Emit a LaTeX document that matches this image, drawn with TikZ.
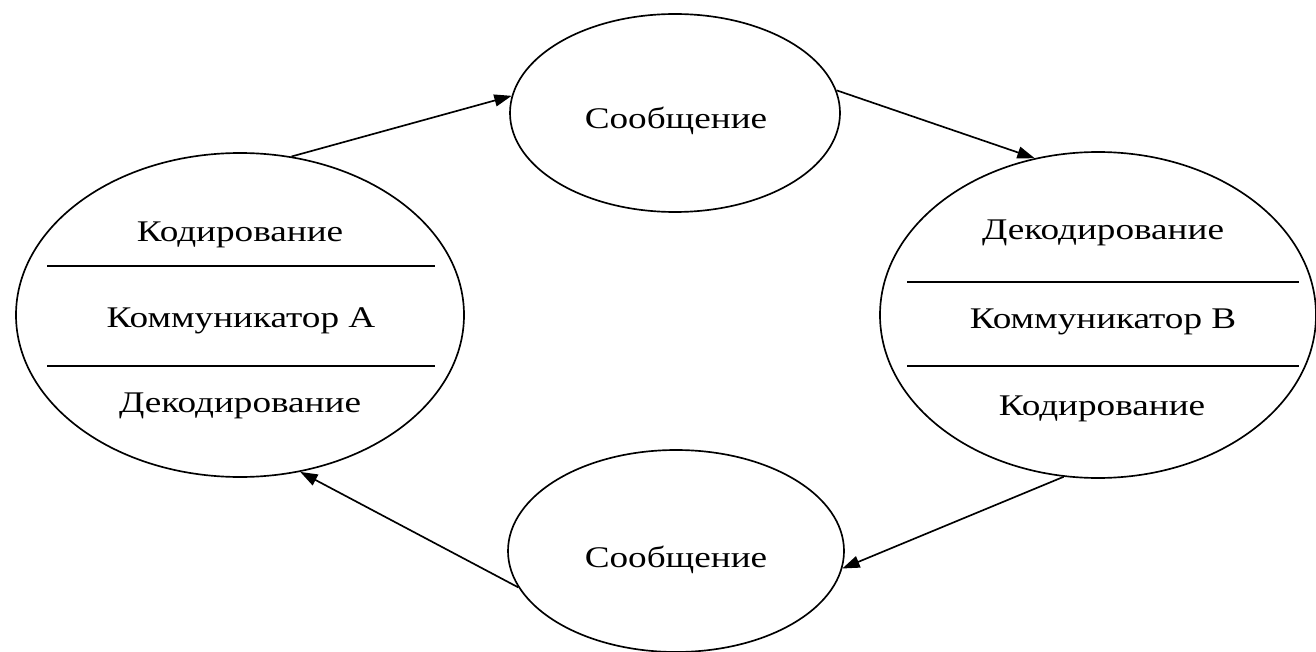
\documentclass[tikz,border=0pt]{standalone}
\usepackage{fontspec}
\setmainfont{Liberation Serif}
\usetikzlibrary{shapes.geometric,arrows.meta}
\newcommand\sttx[1]{\scalebox{1.24}[1]{#1}}
\begin{document}
\begin{tikzpicture}[x=0.75pt,y=-0.75pt,
 oval/.style={ellipse, draw, line width=1.25pt, inner sep=0pt},
 lbl/.style={font=\fontsize{22.5}{27}\selectfont, inner sep=0pt, anchor=base},
 conn/.style={line width=1.25pt, -{Triangle[length=13pt,width=9pt]}},
 sepline/.style={line width=1.25pt}]
\useasboundingbox[fill=white] (0,0) rectangle (1316,652);
% ellipses
\node[oval, minimum width=336pt, minimum height=243pt] (A) at (240,315) {};
\node[oval, minimum width=327pt, minimum height=244.5pt] (B) at (1098,315) {};
\node[oval, minimum width=247.5pt, minimum height=148.5pt] (M1) at (675,113) {};
\node[oval, minimum width=252pt, minimum height=151.5pt] (M2) at (676,551) {};
% texts
\node[lbl] (a1) at (240,242) {\sttx{Кодирование}};
\node[lbl] (a2) at (241,327) {\sttx{Коммуникатор А}};
\node[lbl] (a3) at (240,412) {\sttx{Декодирование}};
\node[lbl] (b1) at (1103,240) {\sttx{Декодирование}};
\node[lbl] (b2) at (1103,328) {\sttx{Коммуникатор В}};
\node[lbl] (b3) at (1102,415) {\sttx{Кодирование}};
\node[lbl] (m1) at (676,129) {\sttx{Сообщение}};
\node[lbl] (m2) at (676,567) {\sttx{Сообщение}};
% separators
\coordinate (al1) at (47,266); \coordinate (ar1) at (435,266);
\coordinate (al2) at (47,366); \coordinate (ar2) at (435,366);
\coordinate (bl1) at (907,282); \coordinate (br1) at (1299,282);
\coordinate (bl2) at (907,366); \coordinate (br2) at (1299,366);
\draw[sepline] (al1) -- (ar1);
\draw[sepline] (al2) -- (ar2);
\draw[sepline] (bl1) -- (br1);
\draw[sepline] (bl2) -- (br2);
% arrows
\draw[conn] (A.72.8) -- (M1.174.3);
\draw[conn] (M1.8.6) -- (B.112.7);
\draw[conn] (B.258.8) -- (M2.354.3);
\draw[conn] (M2.193.1) -- (A.291.5);
\end{tikzpicture}
\end{document}
